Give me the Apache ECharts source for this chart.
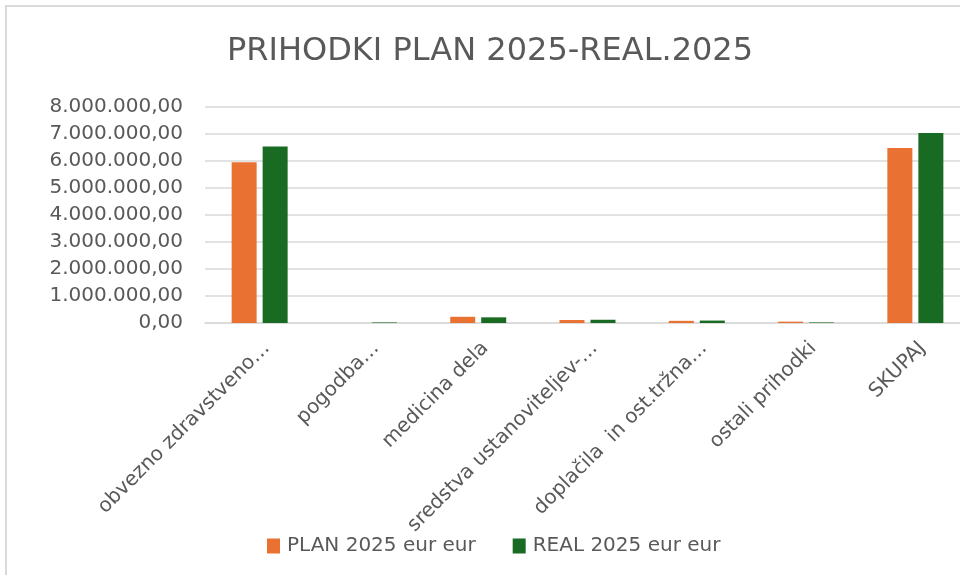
<!DOCTYPE html>
<html>
<head>
<meta charset="utf-8">
<style>
  html, body { margin: 0; padding: 0; background: #fff; }
  #chart { width: 960px; height: 575px; }
</style>
<script src="https://cdn.jsdelivr.net/npm/echarts@6/dist/echarts.min.js"></script>
</head>
<body>
<div id="chart"></div>
<script>
// kategorije in vrednosti (odčitano s slike)
const categories = [
  'obvezno zdravstveno…',
  'pogodba…',
  'medicina dela',
  'sredstva ustanoviteljev-…',
  'doplačila  in ost.tržna…',
  'ostali prihodki',
  'SKUPAJ',
]
const planValues = [5950000, 0, 230000, 110000, 80000, 50000, 6480000]
const realValues = [6540000, 20000, 210000, 120000, 90000, 20000, 7040000]
const seriesNames = ['PLAN 2025 eur eur', 'REAL 2025 eur eur']
const yTicks = { min: 0, max: 8000000, step: 1000000 }

const textColor = '#595959'
const font = 'DejaVu Sans'

// 1234567 -> 1.234.567,00
function fmt(v) {
  const s = Math.round(v).toString().replace(/\B(?=(\d{3})+(?!\d))/g, '.')
  return s + ',00'
}

const chart = echarts.init(document.getElementById('chart'), null, { renderer: 'canvas' })

const option = {
  backgroundColor: '#fff',
  animation: false,
  title: {
    text: 'PRIHODKI PLAN 2025-REAL.2025',
    left: 222,
    top: 31,
    textStyle: { fontFamily: font, fontSize: 32, fontWeight: 'normal', color: textColor },
  },
  legend: {
    left: 262,
    top: 531,
    itemWidth: 13,
    itemHeight: 15,
    itemGap: 37,
    icon: 'rect',
    textStyle: { fontFamily: font, fontSize: 20, color: textColor, padding: [0, 0, 0, 2] },
    data: seriesNames,
  },
  // mreža sega čez desni rob slike (kot v izvirniku)
  grid: { left: 205, top: 107, width: 765, height: 216, outerBoundsMode: 'none' },
  xAxis: {
    type: 'category',
    data: categories,
    axisLine: { lineStyle: { color: '#d9d9d9', width: 1.5 } },
    axisTick: { show: false },
    axisLabel: {
      interval: 0,
      rotate: 45,
      margin: 15,
      align: 'right',
      verticalAlign: 'top',
      fontFamily: font,
      fontSize: 20,
      color: textColor,
    },
  },
  yAxis: {
    type: 'value',
    min: yTicks.min,
    max: yTicks.max,
    interval: yTicks.step,
    axisLine: { show: false },
    axisTick: { show: false },
    splitLine: { lineStyle: { color: '#d9d9d9', width: 1.5 } },
    axisLabel: {
      margin: 22,
      fontFamily: font,
      fontSize: 20,
      color: textColor,
      formatter: fmt,
    },
  },
  series: [
    {
      name: seriesNames[0],
      type: 'bar',
      data: planValues,
      barWidth: 25,
      barGap: '24%',
      itemStyle: { color: '#E97132' },
    },
    {
      name: seriesNames[1],
      type: 'bar',
      data: realValues,
      barWidth: 25,
      itemStyle: { color: '#196B24' },
    },
  ],
  graphic: [
    {
      type: 'rect',
      silent: true,
      shape: { x: 6, y: 6, width: 1200, height: 800 },
      style: { fill: 'none', stroke: '#d9d9d9', lineWidth: 2 },
    },
  ],
}

chart.setOption(option)
</script>
</body>
</html>
